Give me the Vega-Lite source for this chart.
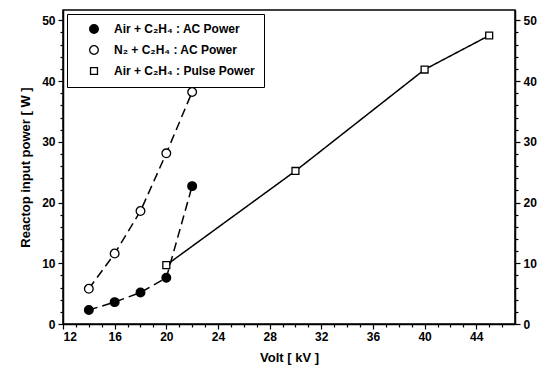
{
  "$schema": "https://vega.github.io/schema/vega-lite/v6.json",
  "width": 452,
  "height": 314,
  "autosize": {"type": "none"},
  "padding": {"left": 63, "top": 10, "right": 33, "bottom": 47},
  "background": "white",
  "config": {
    "view": {"stroke": "black", "strokeWidth": 1.5},
    "font": "Liberation Sans",
    "axis": {
      "grid": false,
      "domainColor": "black",
      "domainWidth": 1.5,
      "tickColor": "black",
      "tickWidth": 1.2,
      "labelFont": "Liberation Sans",
      "labelFontWeight": "bold",
      "labelFontSize": 12,
      "labelColor": "black",
      "titleFont": "Liberation Sans",
      "titleFontWeight": "bold",
      "titleFontSize": 13,
      "titleColor": "black"
    }
  },
  "data": {
    "values": [
      {"series": "Air + C₂H₄ : AC Power", "volt": 14, "power": 2.3},
      {"series": "Air + C₂H₄ : AC Power", "volt": 16, "power": 3.6},
      {"series": "Air + C₂H₄ : AC Power", "volt": 18, "power": 5.2},
      {"series": "Air + C₂H₄ : AC Power", "volt": 20, "power": 7.6},
      {"series": "Air + C₂H₄ : AC Power", "volt": 22, "power": 22.7},
      {"series": "N₂ + C₂H₄ : AC Power", "volt": 14, "power": 5.8},
      {"series": "N₂ + C₂H₄ : AC Power", "volt": 16, "power": 11.6},
      {"series": "N₂ + C₂H₄ : AC Power", "volt": 18, "power": 18.6},
      {"series": "N₂ + C₂H₄ : AC Power", "volt": 20, "power": 28.1},
      {"series": "N₂ + C₂H₄ : AC Power", "volt": 22, "power": 38.2},
      {"series": "Air + C₂H₄ : Pulse Power", "volt": 20, "power": 9.7},
      {"series": "Air + C₂H₄ : Pulse Power", "volt": 30, "power": 25.2},
      {"series": "Air + C₂H₄ : Pulse Power", "volt": 40, "power": 41.9},
      {"series": "Air + C₂H₄ : Pulse Power", "volt": 45, "power": 47.5}
    ]
  },
  "layer": [
    {
      "mark": {"type": "line", "color": "black", "strokeWidth": 1.5},
      "encoding": {
        "x": {"field": "volt", "type": "quantitative", "scale": {"domain": [12, 47], "nice": false, "zero": false},
              "axis": {"orient": "bottom", "title": "Volt [ kV ]",
                       "values": [12,13,14,15,16,17,18,19,20,21,22,23,24,25,26,27,28,29,30,31,32,33,34,35,36,37,38,39,40,41,42,43,44,45,46],
                       "labelExpr": "datum.value % 4 === 0 ? datum.label : ''",
                       "tickSize": {"condition": {"test": "datum.value % 4 === 0", "value": 5}, "value": 3},
                       "labelPadding": 2, "titlePadding": 9}},
        "y": {"field": "power", "type": "quantitative", "scale": {"domain": [0, 51.7], "nice": false},
              "axis": {"orient": "left", "title": "Reactop input power [ W ]",
                       "values": [0,2,4,6,8,10,12,14,16,18,20,22,24,26,28,30,32,34,36,38,40,42,44,46,48,50],
                       "labelExpr": "datum.value % 10 === 0 ? datum.label : ''",
                       "tickSize": {"condition": {"test": "datum.value % 10 === 0", "value": 5}, "value": 3},
                       "labelPadding": 3, "titlePadding": 9}},
        "detail": {"field": "series"},
        "strokeDash": {"field": "series", "type": "nominal", "legend": null,
          "scale": {"domain": ["Air + C₂H₄ : Pulse Power", "Air + C₂H₄ : AC Power", "N₂ + C₂H₄ : AC Power"],
                    "range": [[1, 0], [9, 5], [9, 5]]}}
      }
    },
    {
      "mark": {"type": "point", "filled": true, "stroke": "black", "strokeWidth": 1.3, "opacity": 1, "size": 75},
      "encoding": {
        "x": {"field": "volt", "type": "quantitative", "axis": null},
        "y": {"field": "power", "type": "quantitative",
              "axis": {"orient": "right", "title": null,
                       "values": [0,2,4,6,8,10,12,14,16,18,20,22,24,26,28,30,32,34,36,38,40,42,44,46,48,50],
                       "labelExpr": "datum.value % 10 === 0 ? datum.label : ''",
                       "tickSize": {"condition": {"test": "datum.value % 10 === 0", "value": 5}, "value": 3},
                       "labelPadding": 3}},
        "shape": {"field": "series", "type": "nominal",
          "scale": {"domain": ["Air + C₂H₄ : AC Power", "N₂ + C₂H₄ : AC Power", "Air + C₂H₄ : Pulse Power"],
                    "range": ["circle", "circle", "M-0.8,-0.8H0.8V0.8H-0.8Z"]}},
        "fill": {"field": "series", "type": "nominal",
          "scale": {"domain": ["Air + C₂H₄ : AC Power", "N₂ + C₂H₄ : AC Power", "Air + C₂H₄ : Pulse Power"],
                    "range": ["black", "white", "white"]},
          "legend": {
            "title": null, "orient": "top-left", "offset": 4, "padding": 9,
            "strokeColor": "black", "fillColor": "white",
            "labelFont": "Liberation Sans", "labelFontWeight": "bold", "labelFontSize": 12, "labelColor": "black",
            "symbolSize": 75, "rowPadding": 7, "labelOffset": 14, "symbolOffset": 12,
            "symbolStrokeColor": "black", "symbolStrokeWidth": 1.3,
            "encode": {
              "legend": {"strokeWidth": {"value": 1.5}}
            }
          }}
      }
    }
  ],
  "resolve": {"axis": {"x": "independent", "y": "independent"}}
}
